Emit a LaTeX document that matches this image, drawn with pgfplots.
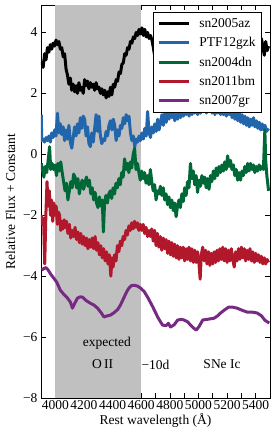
\documentclass[border=0pt]{standalone}
\usepackage{pgfplots}
\pgfplotsset{compat=1.18}
\usetikzlibrary{calc}
\usepackage{fontspec}
\setmainfont{Liberation Serif}
\definecolor{cblue}{RGB}{33,102,172}
\definecolor{cgreen}{RGB}{0,104,55}
\definecolor{cred}{RGB}{178,24,43}
\definecolor{cpurple}{RGB}{118,42,131}
\definecolor{shade}{RGB}{192,192,192}
\begin{document}
\begin{tikzpicture}[font=\fontsize{13.5}{16}\selectfont]
\begin{axis}[
  scale only axis, width=229pt, height=393pt,
  xmin=3900, xmax=5500, ymin=-8, ymax=4.9,
  xtick={4000,4200,4400,4600,4800,5000,5200,5400},
  xticklabels={4000,4200,4400,4600,4800,5000,5200,5400},
  minor xtick={4100,4300,4500,4700,4900,5100,5300},
  ytick={-8,-6,-4,-2,0,2,4},
  yticklabels={−8,−6,−4,−2,0,2,4},
  tick align=inside, major tick length=5pt, minor tick length=5pt,
  xticklabel style={inner xsep=0pt, yshift=1pt},
  tick style={black, line width=0.6pt},
  axis line style={line width=0.8pt},
  xlabel={Rest wavelength (Å)},
  ylabel={Relative Flux + Constant},
  xlabel style={yshift=3pt},
  every axis y label/.style={at={(axis description cs:0,0.5)}, rotate=90, anchor=center, yshift=30.5pt},
  legend cell align=left,
  legend style={at={(axis description cs:0.965,0.982)}, anchor=north east,
    draw=black, line width=0.6pt, fill=white, row sep=4.5pt, inner ysep=4pt, inner xsep=4pt,
    column sep=7pt},
  legend image code/.code={\draw[#1, line width=3pt] (0pt,0pt) -- (30pt,0pt);},
  every axis plot/.append style={line width=3pt, line join=round},
]
\addplot[fill=shade, draw=none, forget plot] coordinates {(4000,-8) (4000,4.9) (4600,4.9) (4600,-8)} -- cycle;

\addplot[black] coordinates {
(3905,3.05)(3915,2.85)(3925,3.3)(3935,3.1)(3945,3.5)(3955,3.35)(3965,3.6)(3975,3.45)(3985,3.65)(3995,3.55)
(4005,3.75)(4015,3.6)(4025,3.7)(4035,3.45)(4045,3.5)(4055,3.2)(4065,3.3)(4075,2.8)(4085,2.6)(4095,2.3)
(4105,2.5)(4115,2.1)(4125,2.3)(4135,2.05)(4145,2.25)(4155,2.0)(4165,2.35)(4175,2.1)(4185,2.2)(4195,2.0)
(4205,2.45)(4215,2.25)(4225,2.4)(4235,2.15)(4245,2.35)(4255,2.2)(4265,2.3)(4275,2.1)(4285,2.35)(4295,2.15)
(4305,2.2)(4315,2.0)(4325,2.15)(4335,1.95)(4345,2.1)(4355,1.85)(4365,2.05)(4375,1.9)(4385,2.2)(4395,1.95)
(4405,2.3)(4415,2.2)(4425,2.45)(4435,2.4)(4445,2.7)(4455,2.65)(4465,2.95)(4475,3.0)(4485,3.3)(4495,3.25)
(4505,3.5)(4515,3.45)(4525,3.7)(4535,3.65)(4545,3.85)(4555,3.8)(4565,4.0)(4575,3.9)(4585,4.1)(4595,3.95)
(4605,4.15)(4615,3.9)(4625,4.1)(4635,3.85)(4645,4.0)(4655,3.8)(4665,3.9)(4675,3.75)(4685,3.5)(4695,3.2)
(4750,3.3)(4850,3.5)(4950,3.4)(5050,3.6)(5150,3.5)(5250,3.6)(5350,3.5)(5430,3.6)(5440,3.8)(5450,3.55)
(5460,3.25)(5470,3.7)(5480,3.4)(5490,3.55)
};
\addlegendentry{sn2005az}

\addplot[cblue] coordinates {
(3902,1.3)(3905,0.45)(3915,0.5)(3925,0.4)(3935,0.55)(3945,0.45)(3955,0.6)(3965,0.4)(3975,0.7)(3985,0.55)
(3995,0.8)(4005,0.6)(4015,1.35)(4025,0.7)(4035,1.0)(4045,0.65)(4055,0.9)(4065,0.45)(4075,0.8)(4085,0.5)
(4095,0.95)(4105,0.4)(4115,0.2)(4125,0.55)(4135,0.9)(4145,0.6)(4155,1.0)(4165,0.7)(4175,1.2)(4185,0.85)
(4195,1.25)(4205,1.15)(4215,0.6)(4225,0.9)(4235,0.35)(4245,0.25)(4255,0.7)(4265,0.4)(4275,0.85)(4285,1.3)
(4295,0.75)(4305,1.25)(4315,0.6)(4325,0.35)(4335,0.5)(4345,0.45)(4355,0.75)(4365,0.6)(4375,0.95)(4385,1.1)
(4395,0.8)(4405,1.15)(4415,0.95)(4425,0.45)(4435,0.8)(4445,0.6)(4455,0.95)(4465,0.85)(4475,1.2)(4485,1.0)
(4495,1.3)(4505,1.1)(4515,1.25)(4525,0.7)(4535,0.45)(4545,0.6)(4555,0.25)(4565,0.5)(4575,0.4)(4585,0.6)
(4595,0.45)(4605,0.7)(4615,0.5)(4625,0.85)(4635,0.6)(4645,1.4)(4655,0.7)(4665,0.55)(4675,0.9)(4685,0.7)
(4695,1.0)(4705,0.75)(4715,1.15)(4725,0.8)(4735,1.05)(4745,1.3)(4755,0.95)(4765,1.35)(4775,1.05)(4785,1.5)
(4795,1.15)(4805,1.55)(4815,1.2)(4825,1.45)(4835,1.1)(4845,1.4)(4855,1.15)(4865,1.6)(4875,1.2)(4885,1.5)
(4895,1.25)(4905,1.65)(4915,1.3)(4925,1.55)(4935,1.25)(4945,1.6)(4955,1.3)(4965,1.7)(4975,1.35)(4985,1.6)
(4995,1.3)(5005,1.65)(5015,1.35)(5025,1.75)(5035,1.4)(5045,1.7)(5055,1.35)(5065,1.8)(5075,1.4)(5085,1.7)
(5095,1.35)(5105,1.65)(5115,1.3)(5125,1.7)(5135,1.35)(5145,1.6)(5155,1.3)(5165,1.65)(5175,1.3)(5185,1.55)
(5195,1.25)(5205,1.6)(5215,1.3)(5225,1.5)(5235,1.2)(5245,1.45)(5255,1.15)(5265,1.4)(5275,1.1)(5285,1.35)
(5295,1.05)(5305,1.3)(5315,1.0)(5325,1.25)(5335,0.95)(5345,1.2)(5355,0.9)(5365,1.15)(5375,0.95)(5385,1.2)
(5395,0.9)(5405,1.1)(5415,0.85)(5425,1.05)(5435,0.8)(5445,1.0)(5455,0.8)(5465,0.95)(5475,0.75)(5490,0.85)
};
\addlegendentry{PTF12gzk}

\addplot[cgreen] coordinates {
(3902,-0.3)(3910,-0.5)(3920,-0.75)(3930,-0.4)(3940,-0.6)(3950,-0.2)(3960,0.25)(3968,-0.5)(3978,-0.3)(3988,-0.5)
(3998,-0.35)(4008,-0.7)(4018,-0.3)(4028,-0.55)(4038,-0.25)(4048,-0.6)(4058,-0.9)(4068,-1.2)(4078,-0.95)(4088,-1.5)
(4098,-1.2)(4108,-0.9)(4118,-1.1)(4128,-0.65)(4138,-0.75)(4148,-1.1)(4158,-0.8)(4168,-1.3)(4178,-1.0)(4188,-0.85)
(4198,-1.15)(4208,-0.9)(4218,-0.75)(4228,-1.05)(4238,-0.85)(4248,-1.3)(4258,-1.1)(4268,-1.5)(4278,-1.25)(4288,-1.6)
(4298,-1.75)(4308,-1.4)(4318,-1.7)(4328,-1.5)(4336,-2.55)(4344,-1.6)(4354,-1.35)(4364,-1.6)(4374,-1.3)(4384,-1.2)
(4394,-1.45)(4404,-1.1)(4414,-1.3)(4424,-0.95)(4434,-1.1)(4444,-0.8)(4454,-1.0)(4464,-0.6)(4474,-0.75)(4484,-0.15)
(4494,-0.5)(4504,-0.3)(4514,-0.6)(4524,-0.25)(4534,-0.45)(4544,0.0)(4554,0.2)(4564,-0.5)(4574,-0.3)(4584,-0.6)
(4594,-0.85)(4604,-0.55)(4614,-0.8)(4624,-0.6)(4634,-0.95)(4644,-0.7)(4654,-1.0)(4664,-0.5)(4674,-0.9)(4684,-1.2)
(4694,-1.0)(4704,-1.5)(4714,-1.2)(4724,-1.3)(4734,-1.05)(4744,-1.35)(4754,-1.1)(4764,-1.5)(4774,-1.3)(4784,-1.65)
(4794,-1.4)(4804,-1.75)(4814,-1.5)(4824,-1.85)(4834,-1.6)(4844,-2.05)(4854,-1.7)(4864,-1.5)(4874,-1.75)(4884,-1.3)
(4894,-1.55)(4904,-1.1)(4914,-1.35)(4924,-0.9)(4934,-1.1)(4944,-0.3)(4954,-0.8)(4964,-0.55)(4974,-1.0)(4984,-0.7)
(4994,-1.25)(5004,-0.85)(5014,-1.05)(5024,-0.7)(5034,-0.95)(5044,-0.75)(5054,-1.1)(5064,-0.8)(5074,-1.15)(5084,-0.7)
(5094,-0.9)(5104,-0.55)(5114,-0.8)(5124,-0.45)(5134,-0.7)(5144,-0.4)(5154,-0.6)(5164,-0.35)(5174,-0.55)(5184,-0.25)
(5194,-0.5)(5204,-0.05)(5214,-0.4)(5224,-0.2)(5234,-0.5)(5244,-0.35)(5254,-0.7)(5264,-0.5)(5274,-0.85)(5284,-0.6)
(5294,-0.85)(5304,-0.55)(5314,-0.7)(5324,-0.4)(5334,-0.6)(5344,-0.3)(5354,-0.55)(5364,-0.3)(5374,-0.5)(5384,-0.35)
(5394,-0.6)(5404,-0.4)(5414,-0.55)(5424,-0.35)(5434,-0.5)(5444,-0.4)(5454,-0.5)(5464,0.8)(5470,-0.2)(5478,-0.7)
(5490,-1.2)
};
\addlegendentry{sn2004dn}

\addplot[cred] coordinates {
(3902,-2.0)(3910,-2.3)(3918,-2.1)(3926,-3.6)(3934,-2.0)(3942,-0.9)(3950,-1.7)(3958,-1.2)(3966,-2.0)(3974,-1.5)
(3982,-2.2)(3990,-1.6)(3998,-2.0)(4006,-1.7)(4014,-2.3)(4022,-1.9)(4030,-2.0)(4038,-2.5)(4046,-2.2)(4054,-2.45)
(4062,-2.15)(4070,-2.4)(4078,-2.2)(4088,-2.6)(4098,-2.3)(4108,-2.75)(4118,-2.5)(4128,-2.7)(4138,-2.4)(4148,-2.8)
(4158,-2.55)(4168,-2.9)(4178,-2.6)(4188,-2.95)(4198,-2.7)(4208,-3.0)(4218,-2.75)(4228,-3.1)(4238,-2.8)(4248,-3.05)
(4258,-2.75)(4268,-3.1)(4278,-2.7)(4288,-3.15)(4298,-2.9)(4308,-3.3)(4318,-3.0)(4328,-3.4)(4338,-3.1)(4348,-3.5)
(4358,-3.2)(4368,-3.6)(4378,-3.3)(4388,-4.0)(4396,-3.4)(4404,-3.7)(4414,-3.3)(4424,-3.5)(4434,-3.0)(4444,-3.2)
(4454,-2.85)(4464,-3.0)(4474,-2.7)(4484,-2.8)(4494,-2.5)(4504,-2.65)(4514,-2.35)(4524,-2.5)(4534,-2.25)(4544,-2.45)
(4554,-2.2)(4564,-2.4)(4574,-2.25)(4584,-2.5)(4594,-2.3)(4604,-2.5)(4614,-2.3)(4624,-2.6)(4634,-2.4)(4644,-2.7)
(4654,-2.5)(4664,-2.7)(4674,-2.45)(4684,-2.85)(4694,-2.5)(4704,-3.0)(4714,-2.6)(4724,-3.05)(4734,-2.7)(4744,-3.15)
(4754,-2.75)(4764,-3.1)(4774,-2.8)(4784,-3.25)(4794,-2.85)(4804,-3.3)(4814,-2.9)(4824,-3.35)(4834,-2.95)(4844,-3.4)
(4854,-3.0)(4864,-3.45)(4874,-3.05)(4884,-3.4)(4894,-3.05)(4904,-3.5)(4914,-3.1)(4924,-3.45)(4934,-3.05)(4944,-3.5)
(4954,-3.1)(4964,-3.55)(4974,-3.15)(4984,-3.55)(4994,-3.2)(5004,-3.6)(5012,-4.1)(5020,-3.3)(5030,-3.05)(5040,-3.5)
(5050,-3.15)(5060,-3.6)(5070,-3.2)(5080,-3.65)(5090,-3.25)(5100,-3.6)(5110,-3.2)(5120,-3.55)(5130,-3.15)(5140,-3.5)
(5150,-3.1)(5160,-3.45)(5170,-3.05)(5180,-3.5)(5190,-3.1)(5200,-3.55)(5210,-3.15)(5220,-3.5)(5230,-3.1)(5240,-3.45)
(5250,-3.7)(5260,-3.2)(5270,-3.5)(5280,-3.1)(5290,-3.45)(5300,-3.05)(5310,-3.4)(5320,-3.1)(5330,-3.5)(5340,-3.15)
(5350,-3.45)(5360,-3.1)(5370,-3.5)(5380,-3.2)(5390,-3.55)(5400,-3.25)(5410,-3.5)(5420,-3.3)(5430,-3.55)(5440,-3.35)
(5450,-3.6)(5460,-3.4)(5470,-3.6)(5480,-3.45)(5490,-3.55)
};
\addlegendentry{sn2011bm}

\addplot[cpurple] coordinates {
(3905,-3.8)(3920,-3.75)(3935,-3.72)(3950,-3.8)(3970,-3.95)(3990,-4.07)(4010,-4.2)(4035,-4.46)(4060,-4.6)(4085,-4.72)
(4105,-4.85)(4120,-5.05)(4135,-4.9)(4155,-4.72)(4175,-4.68)(4190,-4.69)(4215,-4.8)(4245,-4.89)(4270,-4.95)(4295,-5.05)
(4320,-5.2)(4340,-5.34)(4365,-5.3)(4385,-5.28)(4410,-5.2)(4435,-5.1)(4455,-4.95)(4480,-4.7)(4500,-4.5)(4515,-4.39)
(4535,-4.3)(4555,-4.3)(4575,-4.33)(4595,-4.39)(4620,-4.5)(4645,-4.69)(4680,-5.0)(4715,-5.34)(4735,-5.5)(4750,-5.61)
(4775,-5.62)(4790,-5.55)(4805,-5.67)(4830,-5.6)(4855,-5.44)(4880,-5.42)(4900,-5.44)(4925,-5.5)(4945,-5.61)(4965,-5.7)
(4985,-5.77)(5005,-5.65)(5030,-5.44)(5060,-5.42)(5085,-5.4)(5110,-5.38)(5135,-5.3)(5155,-5.21)(5185,-5.1)(5210,-5.02)
(5240,-5.02)(5270,-5.05)(5305,-5.12)(5340,-5.18)(5375,-5.18)(5410,-5.21)(5440,-5.3)(5465,-5.45)(5495,-5.54)
};
\addlegendentry{sn2007gr}

\node at (axis cs:4360,-6.2) {expected};
\node at (axis cs:4330,-6.9) {O\,II};
\node at (axis cs:4700,-6.9) {−10d};
\node at (axis cs:5165,-6.9) {SNe Ic};
\end{axis}
\pgfresetboundingbox
\path ($(current axis.south west)+(-41pt,-39pt)$) rectangle ($(current axis.north east)+(5pt,5pt)$);
\end{tikzpicture}
\end{document}
